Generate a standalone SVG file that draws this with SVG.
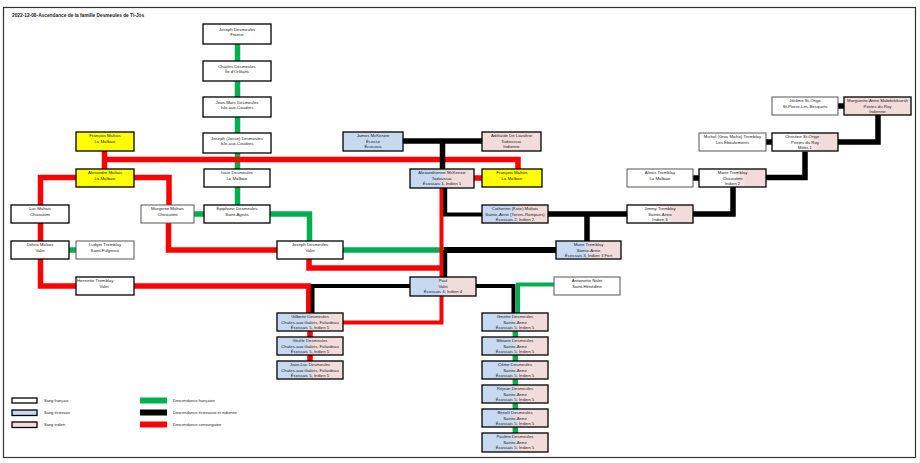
<svg xmlns="http://www.w3.org/2000/svg" width="920" height="463" viewBox="0 0 920 463">
<style>
.n rect{stroke:#000;stroke-width:1.3}
.t rect{stroke:#555;stroke-width:1}
.w{fill:#fff}.b{fill:#c6d9f1}.p{fill:#f2dcdb}.y{fill:#ffff00}.bp{fill:url(#bp)}.wp{fill:url(#wp)}
text{font-family:"Liberation Sans",Arial,sans-serif;font-size:4.3px;fill:#222;text-anchor:middle}
.l{text-anchor:start}
.g{stroke:#00b050;fill:none;stroke-width:5.5}
.k{stroke:#000;fill:none;stroke-width:5.5}
.r{stroke:#f00;fill:none;stroke-width:5.5}
.leg{font-size:4px;text-anchor:start}
</style>
<defs>
<linearGradient id="bp" x1="0" y1="0" x2="1" y2="0"><stop offset="0" stop-color="#c6d9f1"/><stop offset="0.4" stop-color="#c6d9f1"/><stop offset="0.6" stop-color="#f2dcdb"/><stop offset="1" stop-color="#f2dcdb"/></linearGradient>
<linearGradient id="wp" x1="0" y1="0" x2="1" y2="0"><stop offset="0" stop-color="#fff"/><stop offset="0.45" stop-color="#fff"/><stop offset="0.7" stop-color="#f2dcdb"/><stop offset="1" stop-color="#f2dcdb"/></linearGradient>
</defs>
<rect x="0" y="0" width="920" height="463" fill="#fff"/>
<rect x="3.5" y="7.5" width="912" height="450" fill="none" stroke="#333" stroke-width="1.2"/>
<text x="12" y="17" class="l" style="font-size:4.8px;font-weight:bold">2022-12-08-Ascendance de la famille Desmeules de Ti-Jos</text>

<g id="connectors">
<path class="g" d="M237.5,44V205"/>
<path class="g" d="M194,214H204"/>
<path class="g" d="M270,214H309.5V241"/>
<path class="g" d="M343,250H440"/>
<path class="g" d="M69,250H76"/>
<path class="g" d="M554,284.5H518V313" style="stroke-width:4"/>
<path class="g" d="M515.3,331V433"/>

<path class="r" d="M104.5,151V169"/>
<path class="r" d="M104.5,159.5H518V169"/>
<path class="r" d="M474,178H482"/>
<path class="r" d="M134,177.5H169V205"/>
<path class="r" d="M76,177.5H40.5V205"/>
<path class="r" d="M40.5,223V241"/>
<path class="r" d="M40.5,259V286H76"/>
<path class="r" d="M134,286H308.8V313" />
<path class="r" d="M168.5,223V250H277"/>
<path class="r" d="M309,259V268H441.5"/>
<path class="r" d="M441.5,187V322.5H343" style="stroke-width:4"/>
<path class="r" d="M310,331V361"/>

<path class="k" d="M403,141H482"/>
<path class="k" d="M442.5,141V169"/>
<path class="k" d="M445.2,187V214.5H482" style="stroke-width:4"/>
<path class="k" d="M548,214H627"/>
<path class="k" d="M587,214V241"/>
<path class="k" d="M693,214H733V187"/>
<path class="k" d="M693,178H699"/>
<path class="k" d="M766,177.5H805V151.7"/>
<path class="k" d="M766,142H772"/>
<path class="k" d="M838,142H878V115"/>
<path class="k" d="M838,106H844"/>
<path class="k" d="M443.5,250H556" style="stroke-width:6"/>
<path class="k" d="M445.2,250V277" style="stroke-width:4"/>
<path class="k" d="M410,286H312.6V313" style="stroke-width:3.8"/>
<path class="k" d="M476,286H513.5V313" style="stroke-width:4"/>
</g>

<g id="n-joseph-france" class="n"><rect class="w" x="203" y="24" width="68" height="20"/><text><tspan x="237" y="30.5">Joseph Desmeules</tspan><tspan x="237" y="36.2">France</tspan></text></g>
<g id="n-charles" class="n"><rect class="w" x="203" y="61" width="68" height="20"/><text><tspan x="237" y="67.5">Charles Desmeules</tspan><tspan x="237" y="73.2">Île d'Orléans</tspan></text></g>
<g id="n-jeanmarc" class="n"><rect class="w" x="203" y="97" width="68" height="20"/><text><tspan x="237" y="103.5">Jean-Marc Desmeules</tspan><tspan x="237" y="109.2">Isle-aux-Coudres</tspan></text></g>
<g id="n-josse" class="n"><rect class="w" x="203" y="133" width="68" height="20"/><text><tspan x="237" y="139.5">Joseph (Josse) Desmeules</tspan><tspan x="237" y="145.2">Isle-aux-Coudres</tspan></text></g>
<g id="n-isaie" class="n"><rect class="w" x="204" y="169" width="66" height="18"/><text><tspan x="237" y="174">Isaïe Desmeules</tspan><tspan x="237" y="179.7">La Malbaie</tspan></text></g>
<g id="n-epiphane" class="n"><rect class="w" x="204" y="205" width="66" height="18"/><text><tspan x="237" y="210">Épiphane Desmeules</tspan><tspan x="237" y="215.7">Saint-Agnès</tspan></text></g>
<g id="n-joseph-valin" class="n"><rect class="w" x="277" y="241" width="66" height="18"/><text><tspan x="310" y="246">Joseph Desmeules</tspan><tspan x="310" y="251.7">Valin</tspan></text></g>

<g id="n-francois-1" class="n"><rect class="y" x="76" y="132" width="58" height="19"/><text><tspan x="105" y="137">François Maltais</tspan><tspan x="105" y="142.7">La Malbaie</tspan></text></g>
<g id="n-alexandre" class="n"><rect class="y" x="76" y="169" width="58" height="18"/><text><tspan x="105" y="174">Alexandre Maltais</tspan><tspan x="105" y="179.7">La Malbaie</tspan></text></g>
<g id="n-luc" class="n"><rect class="w" x="11" y="205" width="58" height="18"/><text><tspan x="40" y="210">Luc Maltais</tspan><tspan x="40" y="215.7">Chicoutimi</tspan></text></g>
<g id="n-margerite" class="t"><rect class="w" x="141" y="205" width="53" height="18"/><text><tspan x="167.5" y="210">Margerite Maltais</tspan><tspan x="167.5" y="215.7">Chicoutimi</tspan></text></g>
<g id="n-delvia" class="n"><rect class="w" x="11" y="241" width="58" height="18"/><text><tspan x="40" y="246">Délvia Maltais</tspan><tspan x="40" y="251.7">Valin</tspan></text></g>
<g id="n-ludger" class="t"><rect class="w" x="76" y="241" width="58" height="18"/><text><tspan x="105" y="246">Ludger Tremblay</tspan><tspan x="105" y="251.7">Saint-Fulgence</tspan></text></g>
<g id="n-henriette" class="n"><rect class="w" x="76" y="277" width="58" height="18"/><text><tspan x="77" y="282" class="l">Henriette Tremblay</tspan><tspan x="104" y="287.7">Valin</tspan></text></g>

<g id="n-james" class="n"><rect class="b" x="343" y="132" width="60" height="19"/><text><tspan x="373" y="137">James McKenzie</tspan><tspan x="373" y="142.7">Écosse</tspan><tspan x="373" y="148.4">Écossais</tspan></text></g>
<g id="n-adelaide" class="n"><rect class="p" x="482" y="132" width="59" height="19"/><text><tspan x="511.5" y="137">Adélaïde De Lavaltrie</tspan><tspan x="511.5" y="142.7">Tadoussac</tspan><tspan x="511.5" y="148.4">Indienne</tspan></text></g>
<g id="n-alexandrienne" class="n"><rect class="bp" x="410" y="169" width="64" height="19"/><text><tspan x="442" y="174">Alexandrienne McKenzie</tspan><tspan x="442" y="179.7">Tadoussac</tspan><tspan x="442" y="185.4">Écossais 1, Indien 1</tspan></text></g>
<g id="n-francois-2" class="n"><rect class="y" x="482" y="169" width="60" height="18"/><text><tspan x="512" y="174">François Maltais</tspan><tspan x="512" y="179.7">La Malbaie</tspan></text></g>
<g id="n-catherine" class="n"><rect class="bp" x="482" y="205" width="66" height="18"/><text><tspan x="515" y="210">Catherine (Kate) Maltais</tspan><tspan x="515" y="215.7">Sainte-Anne (Terres-Rompues)</tspan><tspan x="515" y="221.4">Écossais 2, Indien 2</tspan></text></g>
<g id="n-marie-ste-anne" class="n"><rect class="bp" x="556" y="241" width="65" height="18"/><text><tspan x="588.5" y="246">Marie Tremblay</tspan><tspan x="588.5" y="251.7">Sainte-Anne</tspan><tspan x="588.5" y="257.4">Écossais 3, Indien 3 Fort</tspan></text></g>
<g id="n-paul" class="n"><rect class="bp" x="410" y="277" width="66" height="19"/><text><tspan x="443" y="282">Paul</tspan><tspan x="443" y="287.7">Valin</tspan><tspan x="443" y="293.4">Écossais 4, Indien 4</tspan></text></g>

<g id="n-jerome" class="t"><rect class="w" x="772" y="97" width="66" height="18"/><text><tspan x="805" y="102">Jérôme St-Onge</tspan><tspan x="805" y="107.7">St-Pierre-Les-Becquets</tspan></text></g>
<g id="n-marguerite" class="n"><rect class="p" x="844" y="97" width="67" height="18"/><text><tspan x="877.5" y="102">Marguerite-Anne Mabdokikuesh</tspan><tspan x="877.5" y="107.7">Postes du Roy</tspan><tspan x="877.5" y="113.4">Indienne</tspan></text></g>
<g id="n-michel" class="t"><rect class="w" x="699" y="133" width="67" height="18"/><text><tspan x="732.5" y="138">Michel (Gros Micho) Tremblay</tspan><tspan x="732.5" y="143.7">Les Éboulements</tspan></text></g>
<g id="n-christine" class="n"><rect class="wp" x="772" y="133" width="66" height="18"/><text><tspan x="802" y="138">Christine St-Onge</tspan><tspan x="805" y="143.7">Postes du Roy</tspan><tspan x="805" y="149.4">Métis 1</tspan></text></g>
<g id="n-alexis" class="t"><rect class="w" x="627" y="169" width="66" height="18"/><text><tspan x="660" y="174">Alexis Tremblay</tspan><tspan x="660" y="179.7">La Malbaie</tspan></text></g>
<g id="n-marie-chicoutimi" class="n"><rect class="wp" x="699" y="169" width="67" height="18"/><text><tspan x="732.5" y="174">Marie Tremblay</tspan><tspan x="732.5" y="179.7">Chicoutimi</tspan><tspan x="732.5" y="185.4">Indien 2</tspan></text></g>
<g id="n-jimmy" class="n"><rect class="wp" x="627" y="205" width="66" height="18"/><text><tspan x="660" y="210">Jimmy Tremblay</tspan><tspan x="660" y="215.7">Sainte-Anne</tspan><tspan x="660" y="221.4">Indien 3</tspan></text></g>
<g id="n-antoinette" class="t"><rect class="w" x="554" y="277" width="66" height="18"/><text><tspan x="587" y="282">Antoinette Nolet</tspan><tspan x="587" y="287.7">Saint-Hénédine</tspan></text></g>

<g id="n-gilberte" class="n"><rect class="bp" x="277" y="313" width="66" height="18"/><text><tspan x="310" y="318">Gilberte Desmeules</tspan><tspan x="310" y="323.7">Chutes-aux-Galets, Falardeau</tspan><tspan x="310" y="329.4">Écossais 5, Indien 5</tspan></text></g>
<g id="n-gisele" class="n"><rect class="bp" x="277" y="337" width="66" height="18"/><text><tspan x="310" y="342">Gisèle Desmeules</tspan><tspan x="310" y="347.7">Chutes-aux-Galets, Falardeau</tspan><tspan x="310" y="353.4">Écossais 5, Indien 5</tspan></text></g>
<g id="n-jeanluc" class="n"><rect class="bp" x="277" y="361" width="66" height="18"/><text><tspan x="310" y="366">Jean-Luc Desmeules</tspan><tspan x="310" y="371.7">Chutes-aux-Galets, Falardeau</tspan><tspan x="310" y="377.4">Écossais 5, Indien 5</tspan></text></g>

<g id="n-ginette" class="n"><rect class="bp" x="482" y="313" width="66" height="18"/><text><tspan x="515" y="318">Ginette Desmeules</tspan><tspan x="515" y="323.7">Sainte-Anne</tspan><tspan x="515" y="329.4">Écossais 5, Indien 5</tspan></text></g>
<g id="n-bibiane" class="n"><rect class="bp" x="482" y="337" width="66" height="18"/><text><tspan x="515" y="342">Bibiane Desmeules</tspan><tspan x="515" y="347.7">Sainte-Anne</tspan><tspan x="515" y="353.4">Écossais 5, Indien 5</tspan></text></g>
<g id="n-come" class="n"><rect class="bp" x="482" y="361" width="66" height="18"/><text><tspan x="515" y="366">Côme Desmeules</tspan><tspan x="515" y="371.7">Sainte-Anne</tspan><tspan x="515" y="377.4">Écossais 5, Indien 5</tspan></text></g>
<g id="n-rejean" class="n"><rect class="bp" x="482" y="385" width="66" height="18"/><text><tspan x="515" y="390">Réjean Desmeules</tspan><tspan x="515" y="395.7">Sainte-Anne</tspan><tspan x="515" y="401.4">Écossais 5, Indien 5</tspan></text></g>
<g id="n-benoit" class="n"><rect class="bp" x="482" y="409" width="66" height="18"/><text><tspan x="515" y="414">Benoît Desmeules</tspan><tspan x="515" y="419.7">Sainte-Anne</tspan><tspan x="515" y="425.4">Écossais 5, Indien 5</tspan></text></g>
<g id="n-pauline" class="n"><rect class="bp" x="482" y="433" width="66" height="19"/><text><tspan x="515" y="438">Pauline Desmeules</tspan><tspan x="515" y="443.7">Sainte-Anne</tspan><tspan x="515" y="449.4">Écossais 5, Indien 5</tspan></text></g>

<g id="legend">
<g class="n"><rect class="w" x="12" y="398" width="25" height="5"/><rect class="b" x="12" y="410" width="25" height="5.5"/><rect class="p" x="12" y="422" width="25" height="5.5"/></g>
<text class="leg" x="44" y="402">Sang français</text>
<text class="leg" x="44" y="414">Sang écossais</text>
<text class="leg" x="44" y="426">Sang indien</text>
<rect x="140" y="397.5" width="27" height="6" fill="#00b050"/>
<rect x="140" y="409.5" width="27" height="6" fill="#000"/>
<rect x="140" y="421.5" width="27" height="6" fill="#f00"/>
<text class="leg" x="173" y="402">Descendance française</text>
<text class="leg" x="173" y="414">Descendance écossaise et indienne</text>
<text class="leg" x="173" y="426">Descendance consanguine</text>
</g>
</svg>
